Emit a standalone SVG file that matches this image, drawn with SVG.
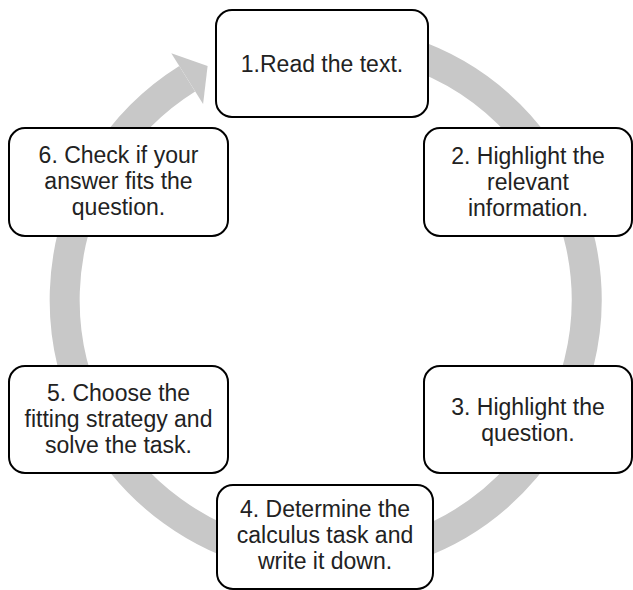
<svg xmlns="http://www.w3.org/2000/svg" width="633" height="590" viewBox="0 0 633 590">
<style>
.box{fill:#ffffff;stroke:#000000;stroke-width:2}
.t{font-family:"Liberation Sans",Arial,sans-serif;font-size:23px;fill:#222222;text-anchor:middle}
.ring{fill:none;stroke:#c8c8c8;stroke-width:30;stroke-linecap:butt}
.head{fill:#c8c8c8}
</style>
<rect width="633" height="590" fill="#ffffff"/>
<g id="connectors">
<path class="ring" d="M 289.2 41.5 A 261 261 0 1 1 187.2 78.7"/>
<polygon class="head" points="171.3,53.2 207.6,66 203.1,104.1"/>
</g>
<g id="node1">
<rect class="box" x="216" y="10" width="212" height="107" rx="16"/>
<text class="t" x="322" y="72">1.Read the text.</text>
</g>
<g id="node2">
<rect class="box" x="424" y="128" width="208" height="108" rx="16"/>
<text class="t" x="528" y="164">2. Highlight the</text>
<text class="t" x="528" y="190">relevant</text>
<text class="t" x="528" y="216">information.</text>
</g>
<g id="node3">
<rect class="box" x="424" y="366" width="208" height="107" rx="16"/>
<text class="t" x="528" y="415">3. Highlight the</text>
<text class="t" x="528" y="441">question.</text>
</g>
<g id="node4">
<rect class="box" x="217" y="485" width="216" height="104" rx="16"/>
<text class="t" x="325" y="517">4. Determine the</text>
<text class="t" x="325" y="543">calculus task and</text>
<text class="t" x="325" y="569">write it down.</text>
</g>
<g id="node5">
<rect class="box" x="9" y="366" width="219" height="107" rx="16"/>
<text class="t" x="118.5" y="401">5. Choose the</text>
<text class="t" x="118.5" y="427">fitting strategy and</text>
<text class="t" x="118.5" y="453">solve the task.</text>
</g>
<g id="node6">
<rect class="box" x="9" y="128" width="219" height="108" rx="16"/>
<text class="t" x="118.5" y="163">6. Check if your</text>
<text class="t" x="118.5" y="189">answer fits the</text>
<text class="t" x="118.5" y="215">question.</text>
</g>
</svg>
